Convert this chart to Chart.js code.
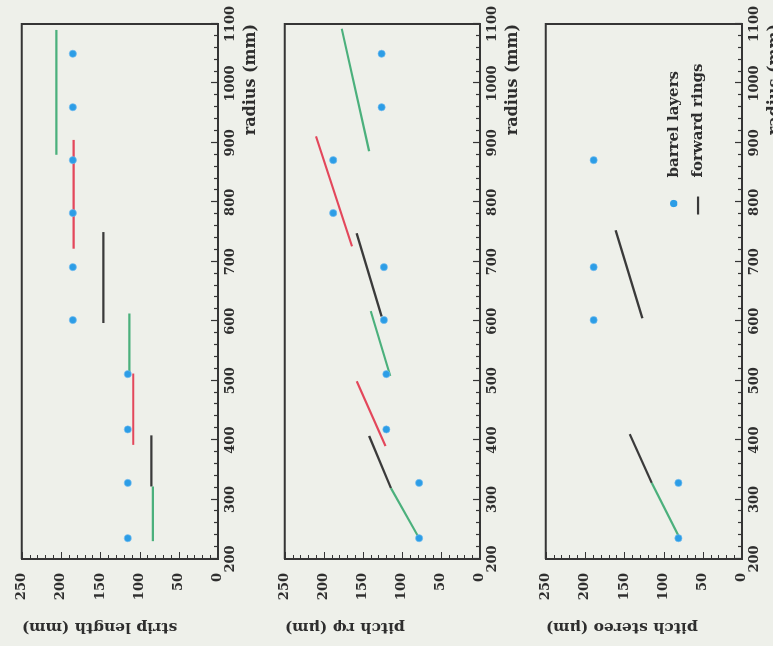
<!DOCTYPE html>
<html>
<head>
<meta charset="utf-8">
<title>Strip length and pitch vs radius</title>
<script src="https://cdn.jsdelivr.net/npm/chart.js@4.4.1/dist/chart.umd.min.js"></script>
<style>
  html, body { margin: 0; padding: 0; width: 773px; height: 646px; overflow: hidden; background: #eef0ea; }
  /* the figure is laid out upright (646 x 773) and then turned a quarter turn, like the scan */
  #figure { position: absolute; left: 0; top: 0; width: 646px; height: 773px;
            transform-origin: 0 0; transform: translate(0, 646px) rotate(-90deg); }
  #figure canvas { position: absolute; left: 0; }
</style>
</head>
<body>
<div id="figure">
  <canvas id="strip" width="646" height="265" style="top:0px"></canvas>
  <canvas id="rphi" width="646" height="264" style="top:263px"></canvas>
  <canvas id="stereo" width="646" height="265" style="top:524px"></canvas>
</div>
<script>
// --- data (radius in mm) ---
const barrelRadius = [235, 328, 418, 511, 602, 691, 782, 871, 960, 1050];
const stripLengthBarrel = [115, 115, 115, 115, 185, 185, 185, 185, 185, 185];
const pitchRphiBarrel = [78, 78, 120, 120, 123, 123, 188, 188, 126, 126];

const stereoBarrelRadius = [235, 328, 602, 691, 871];
const pitchStereoBarrel = [81, 81, 189, 189, 189];

// forward rings: [inner radius, outer radius] and value at each end
const stripRingRadius = [[230, 322], [322, 408], [392, 512], [512, 613], [597, 750], [722, 905], [880, 1090]];
const stripRingLength = [[83, 83], [85, 85], [108, 108], [113, 113], [146, 146], [184, 184], [206, 206]];

const rphiRingRadius = [[235, 319], [319, 407], [390, 499], [508, 617], [608, 748], [726, 911], [886, 1092]];
const rphiRingPitch = [[78, 114], [114, 142], [121, 158], [115, 140], [126, 158], [164, 210], [142, 177]];

const stereoRingRadius = [[239, 328], [328, 410], [605, 753]];
const stereoRingPitch = [[81, 115], [115, 143], [127, 161]];

const radiusTicks = [200, 1100, 100, 20];   // min, max, major step, minor step
const valueTicks = [0, 250, 50, 10];

const legendLabels = ['barrel layers', 'forward rings'];

// --- style ---
const INK = '#353535';
const TEXT = '#2e2e2e';
const BLUE = '#2c9de6';
const GREEN = '#4bb07c';
const RED = '#e3475b';
const DARK = '#3a3a3a';
const FONT = 'DejaVu Serif';

const stripColors = [GREEN, DARK, RED, GREEN, DARK, RED, GREEN];
const rphiColors = [GREEN, DARK, RED, GREEN, DARK, RED, GREEN];
const stereoColors = [GREEN, DARK, DARK];

Chart.defaults.font.family = FONT;
Chart.defaults.font.weight = 'bold';
Chart.defaults.color = TEXT;

// box on the two free sides plus inward minor/major ticks on both axes
const frameAndTicks = {
  id: 'frameAndTicks',
  afterDatasetsDraw(chart) {
    const { ctx, chartArea: a, scales: { x, y } } = chart;
    ctx.save();
    ctx.strokeStyle = INK;
    ctx.lineWidth = 2;
    ctx.beginPath();
    ctx.moveTo(a.left, a.top);
    ctx.lineTo(a.right, a.top);
    ctx.lineTo(a.right, a.bottom);
    ctx.stroke();

    ctx.lineWidth = 1.2;
    ctx.beginPath();
    for (let r = radiusTicks[0]; r <= radiusTicks[1]; r += radiusTicks[3]) {
      const px = Math.round(x.getPixelForValue(r)) + 0.5;
      const len = r % radiusTicks[2] === 0 ? 7 : 4;
      ctx.moveTo(px, a.bottom);
      ctx.lineTo(px, a.bottom - len);
    }
    for (let v = valueTicks[0]; v <= valueTicks[1]; v += valueTicks[3]) {
      const py = Math.round(y.getPixelForValue(v)) + 0.5;
      const len = v % valueTicks[2] === 0 ? 7 : 4;
      ctx.moveTo(a.left, py);
      ctx.lineTo(a.left + len, py);
    }
    ctx.stroke();
    ctx.restore();
  }
};

// small legend sitting inside the plot, anchored on the data scales
const innerLegend = {
  id: 'innerLegend',
  afterDraw(chart, args, opts) {
    const { ctx, scales: { x, y } } = chart;
    const cx = x.getPixelForValue(opts.radius);
    ctx.save();
    ctx.font = 'bold 15px "' + FONT + '"';
    ctx.textBaseline = 'middle';
    legendLabels.forEach((label, i) => {
      const cy = y.getPixelForValue(opts.rows[i]);
      if (i === 0) {
        ctx.beginPath();
        ctx.fillStyle = BLUE;
        ctx.arc(cx, cy, 3.6, 0, Math.PI * 2);
        ctx.fill();
      } else {
        ctx.beginPath();
        ctx.strokeStyle = DARK;
        ctx.lineWidth = 2.2;
        ctx.moveTo(cx - 11, cy);
        ctx.lineTo(cx + 7, cy);
        ctx.stroke();
      }
      ctx.fillStyle = TEXT;
      ctx.fillText(label, cx + 26, cy);
    });
    ctx.restore();
  }
};

function barrelDataset(radii, values) {
  return {
    label: legendLabels[0],
    data: radii.map((r, i) => ({ x: r, y: values[i] })),
    backgroundColor: BLUE,
    borderColor: 'rgba(120, 190, 240, 0.6)',
    borderWidth: 1,
    pointRadius: 3.6,
    showLine: false
  };
}

function ringDatasets(radii, values, colors) {
  return radii.map((r, i) => ({
    label: legendLabels[1],
    data: [{ x: r[0], y: values[i][0] }, { x: r[1], y: values[i][1] }],
    borderColor: colors[i],
    borderWidth: 2.2,
    pointRadius: 0,
    showLine: true
  }));
}

function makePanel(id, yTitle, datasets, extra) {
  const ctx = document.getElementById(id);
  return new Chart(ctx, {
    type: 'scatter',
    data: { datasets: datasets },
    options: {
      responsive: false,
      animation: false,
      events: [],
      layout: { padding: { top: 13, right: 24, left: 0, bottom: 0 } },
      plugins: Object.assign({ legend: { display: false }, tooltip: { enabled: false } }, extra ? extra.options : {}),
      scales: {
        x: {
          type: 'linear',
          min: radiusTicks[0],
          max: radiusTicks[1],
          ticks: { stepSize: radiusTicks[2], padding: 5, maxRotation: 0, autoSkip: false,
                   font: { size: 13, weight: 'bold' }, callback: v => String(v) },
          grid: { display: false, drawTicks: false },
          border: { display: true, color: INK, width: 2 },
          title: { display: true, text: 'radius (mm)', align: 'end', padding: { top: 0, bottom: 5 },
                   font: { size: 16, weight: 'bold' } },
          afterFit: s => { s.height = 47; }
        },
        y: {
          type: 'linear',
          min: valueTicks[0],
          max: valueTicks[1],
          ticks: { stepSize: valueTicks[2], padding: 14, font: { size: 13, weight: 'bold' },
                   callback: v => String(v) },
          grid: { display: false, drawTicks: false },
          border: { display: true, color: INK, width: 2 },
          title: { display: true, text: yTitle, align: 'end', padding: { top: 10, bottom: 0 },
                   font: { size: 15.5, weight: 'bold' } },
          afterFit: s => { s.width = 87; }
        }
      }
    },
    plugins: [frameAndTicks].concat(extra ? extra.plugins : [])
  });
}

makePanel('strip', 'strip length (mm)',
  [barrelDataset(barrelRadius, stripLengthBarrel)].concat(ringDatasets(stripRingRadius, stripRingLength, stripColors)));

makePanel('rphi', 'pitch r\u03c6 (\u03bcm)',
  [barrelDataset(barrelRadius, pitchRphiBarrel)].concat(ringDatasets(rphiRingRadius, rphiRingPitch, rphiColors)));

makePanel('stereo', 'pitch stereo (\u03bcm)',
  [barrelDataset(stereoBarrelRadius, pitchStereoBarrel)].concat(ringDatasets(stereoRingRadius, stereoRingPitch, stereoColors)),
  { plugins: [innerLegend], options: { innerLegend: { radius: 798, rows: [87, 56] } } });
</script>
</body>
</html>
